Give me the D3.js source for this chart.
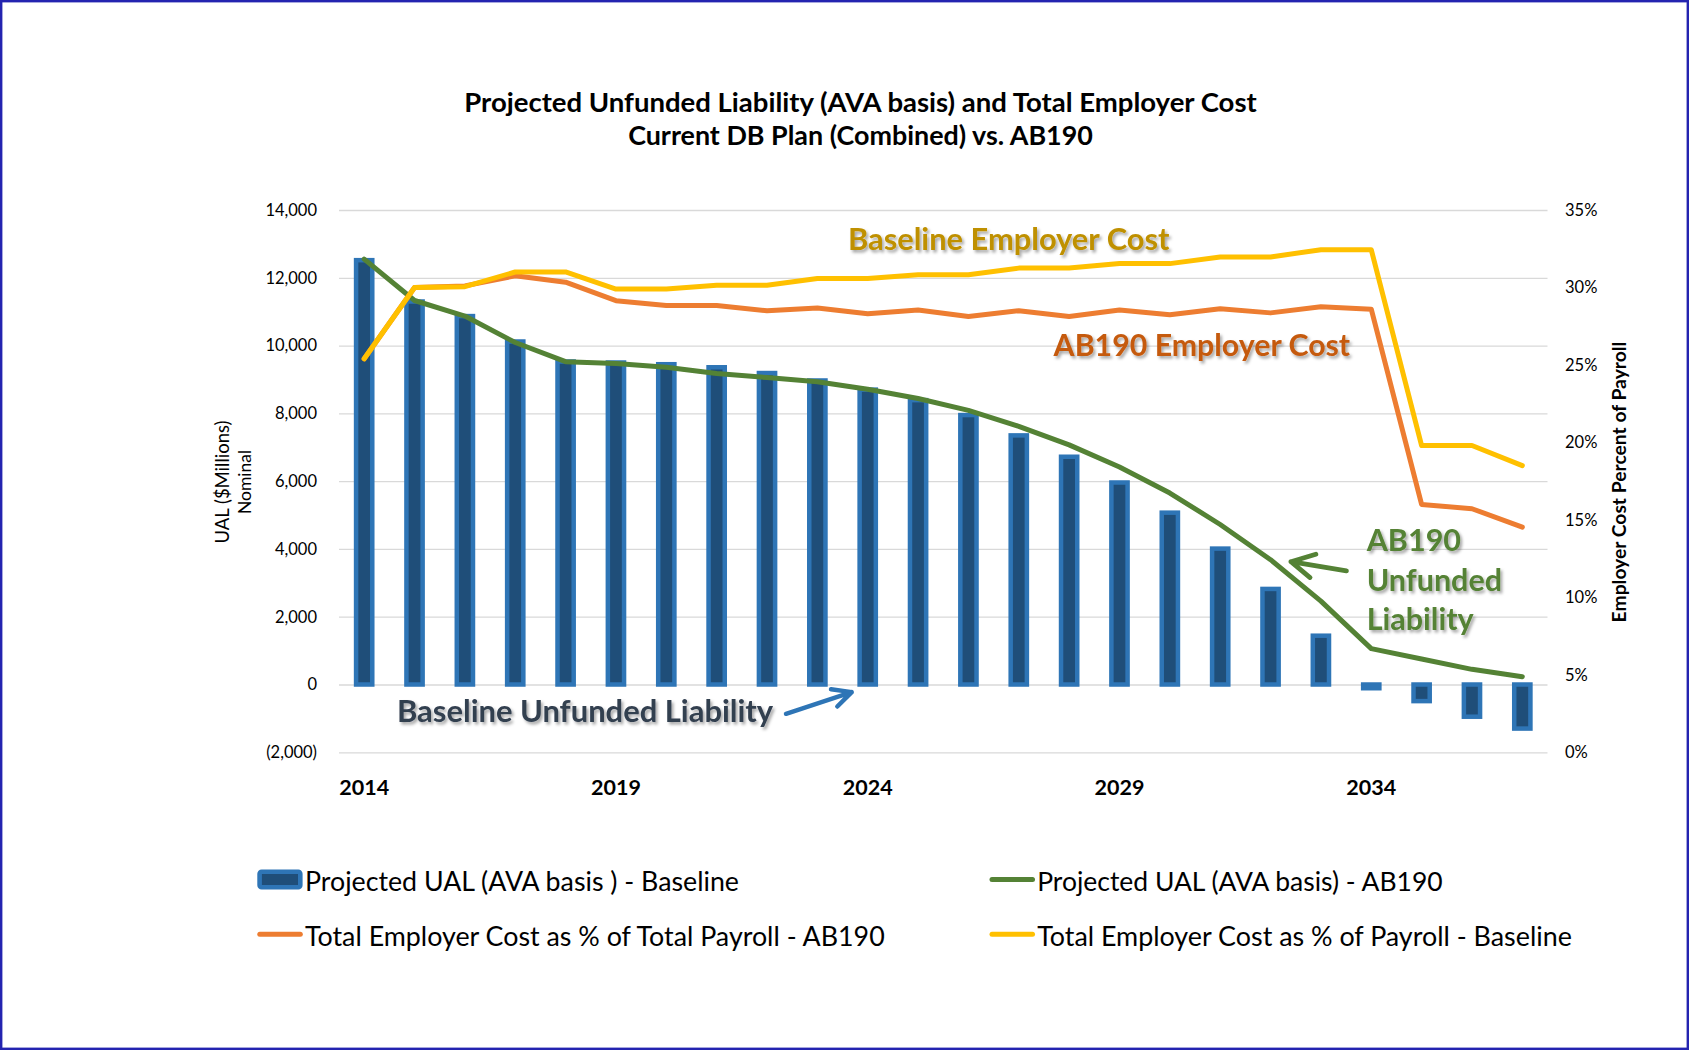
<!DOCTYPE html>
<html>
<head>
<meta charset="utf-8">
<script src="https://cdn.jsdelivr.net/npm/d3@7"></script>
<style>
  body { margin: 0; background: #fff; }
  svg text { font-family: Lato, "Open Sans", sans-serif; }
</style>
</head>
<body>
<svg id="chart" width="1692" height="1051"></svg>
<script>
// data
var years = [2014, 2015, 2016, 2017, 2018, 2019, 2020, 2021, 2022, 2023, 2024, 2025,
             2026, 2027, 2028, 2029, 2030, 2031, 2032, 2033, 2034, 2035, 2036, 2037];
var ualBaseline = [12520, 11300, 10870, 10120, 9530, 9500, 9450, 9360, 9190, 8970, 8700, 8390,
                   7950, 7350, 6720, 5960, 5070, 4010, 2820, 1440, -110, -490, -950, -1300];
var ualAB190 = [12550, 11330, 10870, 10090, 9525, 9470, 9360, 9175, 9055, 8930, 8710, 8437,
                8087, 7617, 7071, 6415, 5650, 4721, 3683, 2459, 1060, 754, 448, 230];
var costAB190 = [25.4, 30.0, 30.1, 30.75, 30.34, 29.15, 28.84, 28.84, 28.5, 28.67, 28.31, 28.55,
                 28.12, 28.5, 28.12, 28.55, 28.24, 28.62, 28.36, 28.75, 28.6, 16.0, 15.72, 14.53];
var costBaseline = [25.4, 30.0, 30.05, 31.0, 31.0, 29.9, 29.9, 30.15, 30.15, 30.58, 30.58, 30.82,
                    30.82, 31.25, 31.25, 31.54, 31.54, 31.97, 31.97, 32.44, 32.44, 19.8, 19.8, 18.5];
var leftTicks = [-2000, 0, 2000, 4000, 6000, 8000, 10000, 12000, 14000];
var rightTicks = [0, 5, 10, 15, 20, 25, 30, 35];
var yearTicks = [2014, 2019, 2024, 2029, 2034];
var seriesNames = ["Projected UAL (AVA basis ) - Baseline",
                   "Projected UAL (AVA basis) - AB190",
                   "Total Employer Cost as % of Total Payroll - AB190",
                   "Total Employer Cost as % of Payroll - Baseline"];

var svg = d3.select("#chart");
// plot box (window.top is read-only, so no bare "top")
var plotL = 339, plotR = 1547.5, plotT = 210, plotB = 752.3;

// fit a text to a width measured on the reference (font substitution)
function fit(sel, w) {
  sel.each(function () {
    var t = d3.select(this);
    var fs = parseFloat(t.style("font-size"));
    var len = this.getComputedTextLength();
    if (len > 0) t.style("font-size", (fs * w / len) + "px");
  });
}

var defs = svg.append("defs");
var f = defs.append("filter").attr("id", "shadow")
  .attr("x", "-10%").attr("y", "-30%").attr("width", "120%").attr("height", "160%");
f.append("feDropShadow").attr("dx", 2).attr("dy", 2.5).attr("stdDeviation", 1.6)
  .attr("flood-color", "#000").attr("flood-opacity", 0.35);

svg.append("rect").attr("width", 1692).attr("height", 1051).attr("fill", "#fff");
svg.append("rect").attr("x", 1.2).attr("y", 1.2).attr("width", 1686.6).attr("height", 1047.6)
  .attr("fill", "none").attr("stroke", "#2424b0").attr("stroke-width", 2.4);

// title
var title = svg.append("g").attr("font-weight", "bold").attr("text-anchor", "middle");
fit(title.append("text").attr("x", 860.5).attr("y", 111.7).style("font-size", "23px")
  .text("Projected Unfunded Liability (AVA basis) and Total Employer Cost"), 793);
fit(title.append("text").attr("x", 860.5).attr("y", 145).style("font-size", "23px")
  .text("Current DB Plan (Combined) vs. AB190"), 465);

var x = d3.scaleBand().domain(years).range([plotL, plotR]);
var yL = d3.scaleLinear().domain([-2000, 14000]).range([plotB, plotT]);
var yR = d3.scaleLinear().domain([0, 35]).range([plotB, plotT]);
var bw = x.bandwidth();
var cx = function (d, i) { return x(years[i]) + bw / 2; };

// left axis + gridlines
var fmt = d3.format(",");
var axL = svg.append("g").attr("transform", "translate(" + plotL + ",0)")
  .call(d3.axisLeft(yL).tickValues(leftTicks).tickSize(-(plotR - plotL)).tickPadding(22)
    .tickFormat(function (d) { return d < 0 ? "(" + fmt(-d) + ")" : fmt(d); }));
axL.select(".domain").remove();
axL.selectAll("line").attr("stroke", "#d9d9d9").attr("stroke-width", 1.3);
axL.selectAll("text").attr("fill", "#000").style("font-size", "16.5px").style("font-family", "Lato, sans-serif");

// right axis
var axR = svg.append("g").attr("transform", "translate(" + plotR + ",0)")
  .call(d3.axisRight(yR).tickValues(rightTicks).tickSize(0).tickPadding(17.5)
    .tickFormat(function (d) { return d + "%"; }));
axR.select(".domain").remove();
axR.selectAll("text").attr("fill", "#000").style("font-size", "16.5px").style("font-family", "Lato, sans-serif");

// bottom axis
var axB = svg.append("g").attr("transform", "translate(0," + plotB + ")")
  .call(d3.axisBottom(x).tickValues(yearTicks).tickSize(0).tickPadding(27));
axB.select(".domain").remove();
axB.selectAll("text").attr("fill", "#000").style("font-size", "21.5px")
  .style("font-weight", "bold").style("font-family", "Lato, sans-serif");

// axis titles
var lt = svg.append("g").attr("transform", "translate(234,482) rotate(-90)")
  .attr("text-anchor", "middle").style("font-size", "18px");
fit(lt.append("text").attr("y", -11).attr("dy", "0.35em").text("UAL ($Millions)"), 123);
lt.append("text").attr("y", 11).attr("dy", "0.35em").style("font-size", "17.5px").text("Nominal");
var rt = svg.append("text").attr("transform", "translate(1619,482) rotate(-90)")
  .attr("text-anchor", "middle").attr("dy", "0.35em").style("font-size", "16px")
  .attr("font-weight", "bold").text("Employer Cost Percent of Payroll");
fit(rt, 281);

// bars
var barW = 16.2;
svg.append("g").selectAll("rect").data(ualBaseline).join("rect")
  .attr("x", function (d, i) { return x(years[i]) + (bw - barW) / 2; })
  .attr("y", function (d) { return yL(Math.max(0, d)); })
  .attr("width", barW)
  .attr("height", function (d) { return Math.abs(yL(d) - yL(0)); })
  .attr("fill", "#1f4e79").attr("stroke", "#2e75b6").attr("stroke-width", 4.5);

// lines
function drawLine(vals, scale, color) {
  svg.append("path").datum(vals)
    .attr("d", d3.line().x(cx).y(function (d) { return scale(d); }))
    .attr("fill", "none").attr("stroke", color).attr("stroke-width", 5)
    .attr("stroke-linejoin", "round").attr("stroke-linecap", "round");
}
drawLine(ualAB190, yL, "#548235");
drawLine(costAB190, yR, "#ed7d31");
drawLine(costBaseline, yR, "#ffc000");

// annotations
var ann = svg.append("g").attr("font-weight", "bold").attr("filter", "url(#shadow)");
fit(ann.append("text").attr("x", 848).attr("y", 250).style("font-size", "30px")
  .attr("fill", "#bf9000").text("Baseline Employer Cost"), 321.5);
fit(ann.append("text").attr("x", 1053.6).attr("y", 355.5).style("font-size", "30px")
  .attr("fill", "#c55a11").text("AB190 Employer Cost"), 296.6);
fit(ann.append("text").attr("x", 397).attr("y", 721.6).style("font-size", "30px")
  .attr("fill", "#333f50").text("Baseline Unfunded Liability"), 376.3);
var gl = ann.append("text").attr("fill", "#548235").style("font-size", "30.5px");
gl.append("tspan").attr("x", 1366.7).attr("y", 550.7).text("AB190");
gl.append("tspan").attr("x", 1366.7).attr("y", 590.7).text("Unfunded");
gl.append("tspan").attr("x", 1366.7).attr("y", 629.5).text("Liability");

// arrows, anchored on the data they point at
var bt = [x(2024) + bw / 2 - 16, yL(0) + 7.6];
svg.append("path")
  .attr("d", "M" + (bt[0] - 65.7) + "," + (bt[1] + 21.7) + "L" + bt[0] + "," + bt[1] +
    "M" + (bt[0] - 20.7) + "," + (bt[1] - 2.8) + "L" + bt[0] + "," + bt[1] +
    "L" + (bt[0] - 14.4) + "," + (bt[1] + 14.4))
  .attr("fill", "none").attr("stroke", "#2e75b6").attr("stroke-width", 4.5)
  .attr("stroke-linecap", "round").attr("stroke-linejoin", "round");
var gt = [x(2032) + bw / 2 + 20.4, yL(ualAB190[18]) + 2];
svg.append("path")
  .attr("d", "M" + (gt[0] + 55.5) + "," + (gt[1] + 9.2) + "L" + gt[0] + "," + gt[1] +
    "M" + (gt[0] + 24.9) + "," + (gt[1] - 7.4) + "L" + gt[0] + "," + gt[1] +
    "L" + (gt[0] + 19.1) + "," + (gt[1] + 15.9))
  .attr("fill", "none").attr("stroke", "#548235").attr("stroke-width", 4.8)
  .attr("stroke-linecap", "round").attr("stroke-linejoin", "round");

// legend
var legend = [
  { name: seriesNames[0], type: "bar", color: "#2e75b6", x: 257.3, y: 879.5, w: 434 },
  { name: seriesNames[1], type: "line", color: "#548235", x: 989.5, y: 879.5, w: 405.6 },
  { name: seriesNames[2], type: "line", color: "#ed7d31", x: 257.3, y: 934.3, w: 580 },
  { name: seriesNames[3], type: "line", color: "#ffc000", x: 989.5, y: 934.3, w: 535 }
];
var lg = svg.append("g").selectAll("g").data(legend).join("g")
  .attr("transform", function (d) { return "translate(" + d.x + "," + d.y + ")"; });
lg.filter(function (d) { return d.type === "bar"; }).append("rect")
  .attr("x", 2.3).attr("y", -7.8).attr("width", 40.7).attr("height", 15.6).attr("rx", 2)
  .attr("fill", "#1f4e79").attr("stroke", "#2e75b6").attr("stroke-width", 4.6);
lg.filter(function (d) { return d.type === "line"; }).append("line")
  .attr("x1", 2.5).attr("x2", 43).attr("stroke", function (d) { return d.color; })
  .attr("stroke-width", 5).attr("stroke-linecap", "round");
lg.append("text").attr("x", 47.7).attr("y", 2.2).attr("dy", "0.35em").style("font-size", "24px")
  .attr("fill", "#000").text(function (d) { return d.name; })
  .each(function (d) { fit(d3.select(this), d.w); });
</script>
</body>
</html>
